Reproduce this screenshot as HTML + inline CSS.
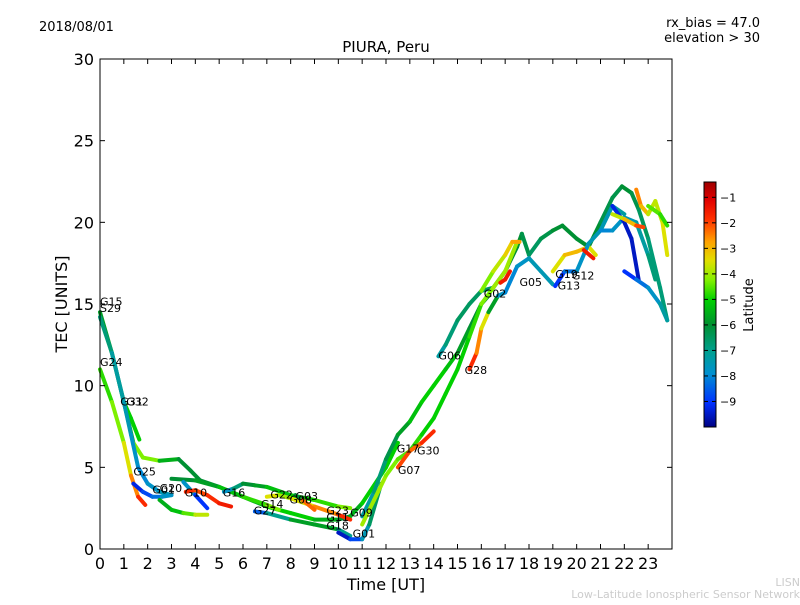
<!DOCTYPE html>
<html><head><meta charset="utf-8"><style>
body{margin:0;background:#fff;font-family:"Liberation Sans","DejaVu Sans",sans-serif}
svg text{font-family:"DejaVu Sans","Liberation Sans",sans-serif}
</style></head><body>
<svg id="chart" width="800" height="600" viewBox="0 0 800 600" xmlns="http://www.w3.org/2000/svg">
<rect width="800" height="600" fill="#fff"/>
<text x="39" y="31" font-size="13">2018/08/01</text>
<text x="386" y="52" font-size="15" text-anchor="middle">PIURA, Peru</text>
<text x="760" y="27" font-size="13" text-anchor="end">rx_bias = 47.0</text>
<text x="760" y="42" font-size="13" text-anchor="end">elevation &gt; 30</text>
<text x="67" y="304" font-size="16" text-anchor="middle" transform="rotate(-90 67 304)">TEC [UNITS]</text>
<text x="386" y="590" font-size="16" text-anchor="middle">Time [UT]</text>
<text x="800" y="586" font-size="11" fill="#ccc" text-anchor="end">LISN</text>
<text x="800" y="598" font-size="11" fill="#ccc" text-anchor="end">Low-Latitude Ionospheric Sensor Network</text>
<g id="marks"></g>
<g id="axes"></g>
</svg>
<script>
const xTicks=[0,1,2,3,4,5,6,7,8,9,10,11,12,13,14,15,16,17,18,19,20,21,22,23];
const yTicks=[0,5,10,15,20,25,30];
const cbTicks=[-1,-2,-3,-4,-5,-6,-7,-8,-9];
const trackNames=["G15","G24","G31","G29","G25","G01a","G10a","G04","G10","G16","G22","G14","G08","G01","G17","G06","G07","G28","G30","G05","G05r","G19","G13","G12","G13b","G26","G32","G21","G20","G27"];
const trackT=[
[0,0.5,1,1.4,1.8,2.5,3.3,3.8,4.2,5,6,7,8,9,10,10.5,11,12,12.5],
[0,0.5,1,1.3,1.6,1.9],
[1,1.3,1.65],
[0,0.5,1,1.3,1.6,2,2.5,3],
[1.4,1.8,2.2,2.6,3],
[2.5,3,3.5,4,4.5],
[3,4,5,6,7,7.5],
[3.5,4,4.5],
[3.6,4,4.5,5,5.5],
[5.2,5.6,6,6.5,7,8,9,10,10.5],
[7,7.5,8,9,10,10.5],
[6.5,7,8,9,10,10.5],
[8.2,8.5,9],
[10,10.5,11,11.3,11.8],
[11,11.5,12,12.5,13,13.5,14,14.5,15,15.5,16,16.3],
[14.2,14.5,15,15.5,16,16.5,17,17.5,17.7,18,18.5,19,19.4,20,20.5,21,21.5,21.9,22.3,22.6,23,23.5,23.8],
[11,11.5,12,12.5,13,13.5,14,14.5,15,15.5,16,16.5,17,17.5],
[15.5,15.8,16,16.3,16.7,17,17.5,18,18.5,19],
[12.5,13,13.5,14],
[16,16.5,17,17.3,17.6],
[16.8,17,17.2],
[19,19.5,20,20.5,20.8],
[19.1,19.5,20,20.5,21,21.5,22],
[20.3,20.7],
[21,21.5,22,22.5,23,23.3],
[21.5,22,22.3,22.6],
[22,22.5,23,23.5,23.8],
[22.5,22.7,23,23.3,23.6,23.8],
[23,23.5,23.8],
[21.5,22,22.5,22.8]];
const trackV=[
[14.5,12,9,6.5,5.6,5.4,5.5,4.8,4.2,3.8,3.2,2.6,2.2,1.8,1.8,2,2.8,5,6.5],
[11,9,6.5,4.5,3.2,2.7],
[9,8,6.7],
[14.2,12,9,7,5,4,3.5,3.3],
[4,3.5,3.2,3.2,3.3],
[3,2.4,2.2,2.1,2.1],
[4.3,4.2,3.8,3.2,2.7,2.4],
[4.1,3.3,2.5],
[3.5,3.6,3.3,2.8,2.6],
[3.5,3.7,4,3.9,3.8,3.3,3,2.6,2.5],
[3.2,3.3,3.1,2.6,2.1,1.8],
[2.3,2.2,1.8,1.5,1.2,0.8],
[3.3,3,2.4],
[1,0.6,0.6,1.5,4],
[2,3.5,5.5,7,7.8,9,10,11,12,13.5,15,15.5],
[11.8,12.5,14,15,15.8,16,17,18.5,19.3,18,19,19.5,19.8,19,18.5,20,21.5,22.2,21.8,20.8,19,16,14],
[1.5,3,4.5,5.5,6,7,8,9.5,11,13,15,16,17,18.8],
[11,12,13.5,14.5,15.5,15.7,17.3,17.8,17,16.2],
[5,6,6.5,7.2],
[15.8,17,18,18.8,18.8],
[16.3,16.5,17],
[17,18,18.2,18.5,18],
[16.1,17,17,18.7,19.5,21,20.5],
[18.3,17.8],
[19.5,19.5,20.3,20,18,16.5],
[21,20,19,16.5],
[17,16.5,16,15,14],
[22,21,20.5,21.3,20,18],
[21,20.5,19.8],
[20.5,20.2,19.8,19.7]];
const trackLat=[
[-5.5,-6,-6,-5,-3.5,-5,-6,-6,-6,-6,-6,-5,-5,-5,-6,-6,-5,-5,-5],
[-5,-4.5,-4,-3,-2,-1.5],
[-5,-5,-5],
[-6.5,-7,-7.5,-7.5,-8,-8,-7.5,-7.5],
[-9.5,-9,-8.5,-8,-7.5],
[-5.5,-5.5,-5,-4,-3.5],
[-6,-6,-5.5,-5,-4.5,-4],
[-7,-8.5,-9.5],
[-1.5,-2,-2,-1.5,-1.5],
[-8,-7.5,-6,-6,-5.5,-5,-5,-4.5,-4],
[-3,-4,-4,-3,-2,-1.5],
[-9,-8,-6,-5.5,-6,-8],
[-9,-3,-1.5],
[-9.5,-9.5,-8,-7,-6],
[-7.5,-7,-6.5,-6,-5.5,-5,-5,-5,-5.5,-6,-6,-6],
[-7.5,-7,-6.5,-6.5,-6.5,-6.5,-6,-6,-6,-6.5,-6.5,-6,-6,-6,-6,-6,-6.5,-6,-6,-6.5,-6.5,-7,-6.5],
[-4,-4,-4,-4.5,-4.5,-5,-5,-5,-5,-5,-4.5,-4,-4,-4],
[-1.5,-2,-3,-4,-7.5,-8,-8,-7.5,-7.5,-7.5],
[-1.5,-2.5,-2,-1.5],
[-4.5,-4,-3.5,-3,-2.5],
[-1.5,-1.5,-1.5],
[-4,-3,-3,-3,-4],
[-9.5,-8.5,-8,-7.5,-7.5,-7.5,-7],
[-1.5,-1.5],
[-8,-8,-7.5,-7.5,-7,-6.5],
[-9,-9.5,-9.5,-9.5],
[-9.5,-8.5,-8,-7.5,-7],
[-3,-2,-4,-3.5,-4,-3],
[-4.5,-4.5,-5],
[-4,-3.5,-2.5,-1.5]];
const labelNames=["G15","S29","G24","G31","G32","G25","G01","G20","G10","G16","G22","G14","G27","G08","G03","G23","G11","G18","G09","G01","G17","G30","G07","G06","G28","G02","G05","G19","G12","G13"];
const labelT=[0,0,0,0.85,1.1,1.4,2.2,2.5,3.55,5.15,7.15,6.75,6.45,7.95,8.2,9.5,9.5,9.5,10.5,10.6,12.45,13.3,12.5,14.2,15.3,16.1,17.6,19.1,19.8,19.2];
const labelV=[14.9,14.5,11.2,8.8,8.8,4.5,3.4,3.5,3.2,3.2,3.1,2.5,2.1,2.8,3,2.1,1.7,1.2,2,0.7,5.9,5.8,4.6,11.6,10.7,15.4,16.1,16.6,16.5,15.9];
const X0=100,X1=672,Y0=549,Y1=59;
const xs=t=>X0+t*(X1-X0)/24;
const ys=v=>Y0-v*(Y0-Y1)/30;
const CB_TOP=182,CB_BOT=427,LMIN=-10,LMAX=-0.4;
const cbY=l=>CB_BOT-(l-LMIN)*(CB_BOT-CB_TOP)/(LMAX-LMIN);
const cmapStops=[[0,0,0,128],[0.1,0,48,255],[0.22,0,144,208],[0.31,0,160,144],[0.42,0,144,48],[0.52,0,208,0],[0.6,128,240,0],[0.68,224,224,0],[0.76,255,160,0],[0.85,255,48,0],[0.93,224,0,0],[1,160,0,0]];
function cmap(f){f=Math.max(0,Math.min(1,f));
 for(let i=0;i<cmapStops.length-1;i++){const a=cmapStops[i],b=cmapStops[i+1];
  if(f<=b[0]){const u=(f-a[0])/(b[0]-a[0]);
   return `rgb(${Math.round(a[1]+u*(b[1]-a[1]))},${Math.round(a[2]+u*(b[2]-a[2]))},${Math.round(a[3]+u*(b[3]-a[3]))})`;}}
 return 'rgb(160,0,0)';}
const latColor=l=>cmap((l-LMIN)/(LMAX-LMIN));
const NS="http://www.w3.org/2000/svg";
const svg=document.getElementById('chart'),marks=document.getElementById('marks'),axes=document.getElementById('axes');
function mk(tag,attrs,parent){const e=document.createElementNS(NS,tag);for(const k in attrs)e.setAttribute(k,attrs[k]);parent.appendChild(e);return e;}
trackT.forEach((ts,i)=>{
 const g=mk('g',{},marks);
 
 
 for(let j=0;j<ts.length-1;j++){
  const a=trackV[i],L=trackLat[i];
  const seg=mk('line',{x1:xs(ts[j]),y1:ys(a[j]),x2:xs(ts[j+1]),y2:ys(a[j+1]),stroke:latColor((L[j]+L[j+1])/2),'stroke-width':4,'stroke-linecap':'round'},g);
  
  
 }
});
labelNames.forEach((n,i)=>{
 const t=mk('text',{x:xs(labelT[i]),y:ys(labelV[i]),'font-size':11},marks);
 t.textContent=n;
 
 
});
const fr=mk('rect',{x:X0,y:Y1,width:X1-X0,height:Y0-Y1,fill:'none',stroke:'#000','stroke-width':1},axes);


xTicks.forEach(v=>{
 const x=xs(v);
 mk('line',{x1:x,x2:x,y1:Y0,y2:Y0-5,stroke:'#000'},axes);
 mk('line',{x1:x,x2:x,y1:Y1,y2:Y1+5,stroke:'#000'},axes);
 const t=mk('text',{x:x,y:Y0+20,'font-size':16,'text-anchor':'middle'},axes);
 t.textContent=v;
 
 
});
yTicks.forEach(v=>{
 const y=ys(v);
 mk('line',{x1:X0,x2:X0+5,y1:y,y2:y,stroke:'#000'},axes);
 mk('line',{x1:X1,x2:X1-5,y1:y,y2:y,stroke:'#000'},axes);
 const t=mk('text',{x:X0-6,y:y+6,'font-size':16,'text-anchor':'end'},axes);
 t.textContent=v;
 
 
});
const cb=mk('g',{},axes);


for(let y=CB_TOP;y<CB_BOT;y++){mk('rect',{x:704,y:y,width:12,height:1.2,fill:cmap((CB_BOT-y)/(CB_BOT-CB_TOP))},cb);}
mk('rect',{x:704,y:CB_TOP,width:12,height:CB_BOT-CB_TOP,fill:'none',stroke:'#000'},cb);
cbTicks.forEach(v=>{
 const y=cbY(v);
 mk('line',{x1:712,x2:716,y1:y,y2:y,stroke:'#000'},cb);
 mk('line',{x1:704,x2:708,y1:y,y2:y,stroke:'#000'},cb);
 const t=mk('text',{x:720,y:y+4,'font-size':11},cb);
 t.textContent='\u2212'+Math.abs(v);
 
 
});
const cl=mk('text',{x:753,y:305,'font-size':13,'text-anchor':'middle',transform:'rotate(-90 753 305)'},cb);
cl.textContent='Latitude';


</script>
</body></html>
